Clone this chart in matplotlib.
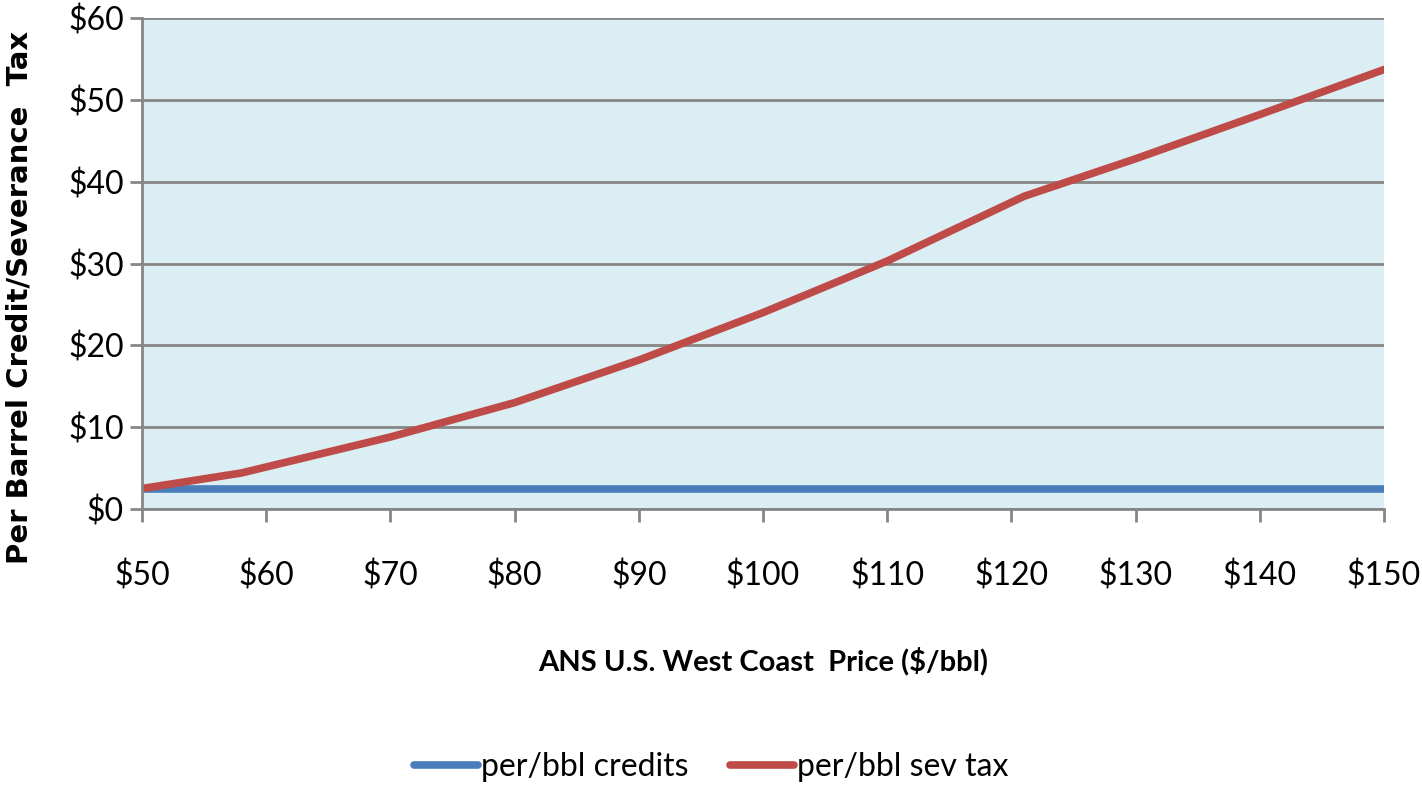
import matplotlib
matplotlib.use("Agg")
import matplotlib.pyplot as plt

plt.rcParams['font.family'] = ['Lato', 'DejaVu Sans']

price = [50, 58, 70, 80, 90, 100, 110, 121, 130, 140, 150]
sev_tax = [2.5, 4.4, 8.8, 13.0, 18.2, 24.0, 30.3, 38.2, 42.8, 48.2, 53.7]
credits = [2.5, 2.5, 2.5, 2.5, 2.5, 2.5, 2.5, 2.5, 2.5, 2.5, 2.5]
xticks = [50, 60, 70, 80, 90, 100, 110, 120, 130, 140, 150]
yticks = [0, 10, 20, 30, 40, 50, 60]

fig = plt.figure(figsize=(14.22, 7.85), dpi=100)
ax = fig.add_axes([142/1422, 1-509/785, (1384-142)/1422, (509-18)/785])
ax.set_facecolor('#DBEEF3')
gc = '#868686'
ax.set_axisbelow(True)
ax.yaxis.grid(True, color=gc, linewidth=2)
ax.plot(price, credits, color='#4A7EBB', linewidth=5.5, solid_capstyle='round', label='per/bbl credits')
ax.plot(price, sev_tax, color='#BE4B48', linewidth=5.5, solid_capstyle='round', label='per/bbl sev tax')
ax.set_xlim(50, 150)
ax.set_ylim(0, 60)
ax.set_xticks(xticks)
ax.set_xticklabels([f'${v}' for v in xticks])
ax.set_yticks(yticks)
ax.set_yticklabels([f'${v}' for v in yticks])
for s in ['top', 'right']:
    ax.spines[s].set_visible(False)
for s in ['left', 'bottom']:
    ax.spines[s].set_color(gc)
    ax.spines[s].set_linewidth(2)
ax.tick_params(axis='both', colors=gc, width=2, length=9, labelcolor='black', labelsize=23)
ax.tick_params(axis='x', pad=28)
ax.tick_params(axis='y', pad=4)
ax.set_xlabel('ANS U.S. West Coast  Price ($/bbl)', fontsize=21, fontweight='bold', labelpad=40)
fig.text(20/1422, 1-297/785, 'Per Barrel Credit/Severance  Tax', rotation=90, fontsize=21,
         fontweight='bold', family=['DejaVu Sans'], ha='center', va='center')
leg = fig.legend(loc='center', bbox_to_anchor=(0.5, 1-767/785), ncol=2, frameon=False,
                 fontsize=23, handlelength=2.0, handletextpad=0.1, columnspacing=1.3)
fig.savefig('out.png', dpi=100)
